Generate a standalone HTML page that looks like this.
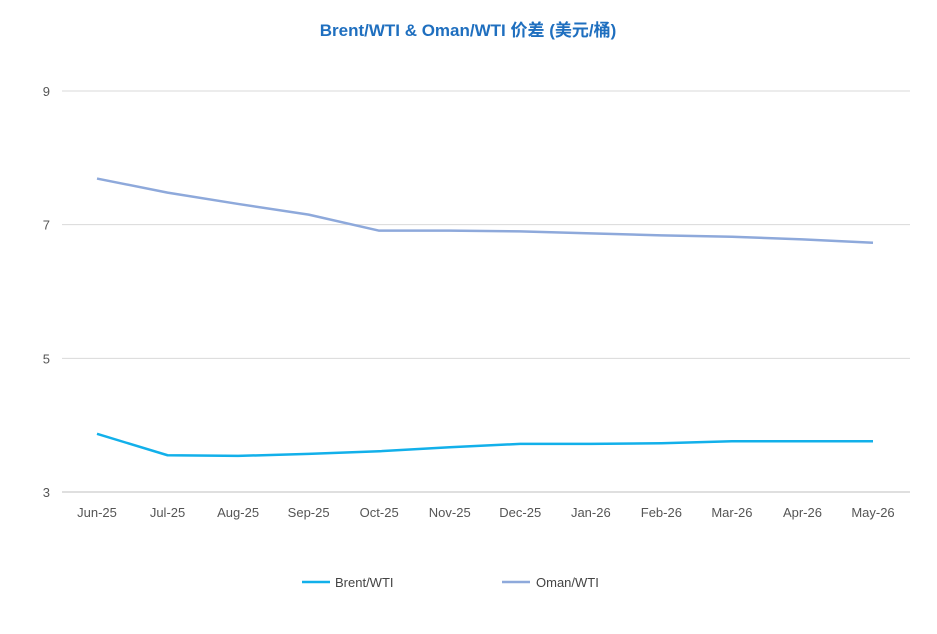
<!DOCTYPE html>
<html><head><meta charset="utf-8"><style>
html,body{margin:0;padding:0;background:#fff;}
svg{display:block;font-family:"Liberation Sans","Noto Sans CJK SC",sans-serif;}
</style></head><body>
<svg id="chart" width="937" height="634">
<text x="468" y="36" text-anchor="middle" font-size="17" font-weight="bold" fill="#1f6fbf">Brent/WTI &amp; Oman/WTI 价差 (美元/桶)</text>
<g id="grid"></g><g id="ylab"></g><g id="xlab"></g><g id="lines"></g>
<g>
<line x1="302" y1="582" x2="330" y2="582" stroke="#12b0ea" stroke-width="2.5"/>
<text x="335" y="587" font-size="13" fill="#444">Brent/WTI</text>
<line x1="502" y1="582" x2="530" y2="582" stroke="#8ea9db" stroke-width="2.5"/>
<text x="536" y="587" font-size="13" fill="#444">Oman/WTI</text>
</g>
</svg>
<script>
const categories=["Jun-25","Jul-25","Aug-25","Sep-25","Oct-25","Nov-25","Dec-25","Jan-26","Feb-26","Mar-26","Apr-26","May-26"];
const brent=[3.87,3.55,3.54,3.57,3.61,3.67,3.72,3.72,3.73,3.76,3.76,3.76];
const oman=[7.69,7.48,7.31,7.15,6.91,6.91,6.90,6.87,6.84,6.82,6.78,6.73];
const yTicks=[3,5,7,9];
const NS="http://www.w3.org/2000/svg";
function y(v){return 492-(v-3)*(492-91)/6;}
function x(i){return 97+i*(873-97)/11;}
function mk(t,a,p){const e=document.createElementNS(NS,t);for(const k in a)e.setAttribute(k,a[k]);p.appendChild(e);return e;}
const g=document.getElementById('grid'),yl=document.getElementById('ylab'),xl=document.getElementById('xlab'),ln=document.getElementById('lines');
yTicks.forEach(v=>{
 const l=mk('line',{x1:62,x2:910,y1:y(v),y2:y(v),stroke:v===3?'#bfbfbf':'#d9d9d9','stroke-width':1},g);
 
 
 const t=mk('text',{x:50,y:y(v)+5,'text-anchor':'end','font-size':13,fill:'#555'},yl);
 t.textContent=v;
 
 
});
categories.forEach((c,i)=>{
 const t=mk('text',{x:x(i),y:517,'text-anchor':'middle','font-size':13,fill:'#555'},xl);
 t.textContent=c;
 
 
});
function line(d,col,name){
 const p=mk('polyline',{points:d.map((v,i)=>x(i)+','+y(v)).join(' '),fill:'none',stroke:col,'stroke-width':2.5,'stroke-linejoin':'round'},ln);
 
 
}
line(oman,'#8ea9db','oman-wti-line');
line(brent,'#12b0ea','brent-wti-line');
</script>
</body></html>
